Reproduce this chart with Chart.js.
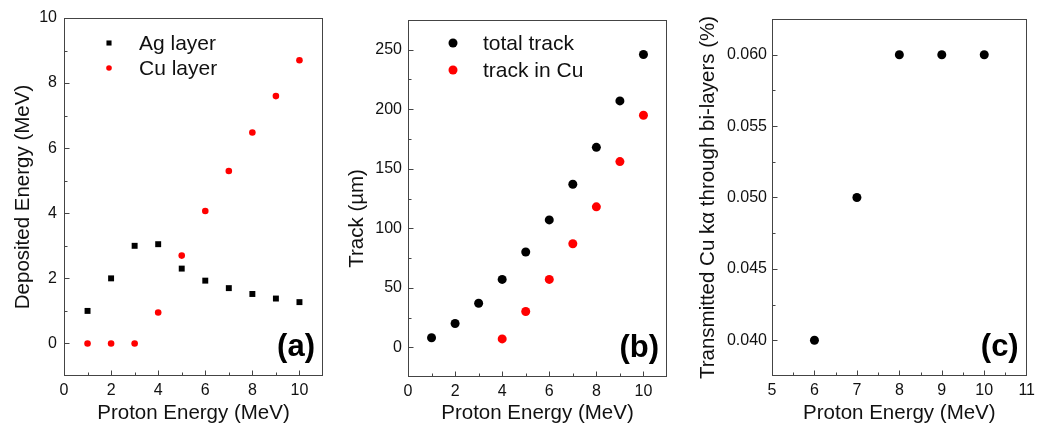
<!DOCTYPE html>
<html>
<head>
<meta charset="utf-8">
<script src="https://cdn.jsdelivr.net/npm/chart.js@4/dist/chart.umd.min.js"></script>
<style>
  html, body { margin: 0; padding: 0; background: #fff; }
  .panel { position: absolute; top: 0; height: 424px; }
  #pa { left: 0; width: 345px; }
  #pb { left: 345px; width: 345px; }
  #pc { left: 690px; width: 350px; }
</style>
</head>
<body>
<div class="panel" id="pa"><canvas id="chartA"></canvas></div>
<div class="panel" id="pb"><canvas id="chartB"></canvas></div>
<div class="panel" id="pc"><canvas id="chartC"></canvas></div>
<script>
// (a) deposited energy
const energyA = [1, 2, 3, 4, 5, 6, 7, 8, 9, 10];
const agLayer = [1.0, 2.0, 3.0, 3.05, 2.3, 1.93, 1.7, 1.52, 1.38, 1.27];
const cuLayer = [0, 0, 0, 0.95, 2.7, 4.07, 5.3, 6.48, 7.6, 8.7];
const xTicksA = [0, 2, 4, 6, 8, 10];
const yTicksA = [0, 2, 4, 6, 8, 10];

// (b) track
const energyB = [1, 2, 3, 4, 5, 6, 7, 8, 9, 10];
const totalTrack = [8, 20, 37, 57, 80, 107, 137, 168, 207, 246];
const energyBCu = [4, 5, 6, 7, 8, 9, 10];
const trackInCu = [7, 30, 57, 87, 118, 156, 195];
const xTicksB = [0, 2, 4, 6, 8, 10];
const yTicksB = [0, 50, 100, 150, 200, 250];

// (c) transmitted Cu k-alpha
const energyC = [6, 7, 8, 9, 10];
const transmitted = [0.040, 0.050, 0.060, 0.060, 0.060];
const xTicksC = [5, 6, 7, 8, 9, 10, 11];
const yTicksC = [0.040, 0.045, 0.050, 0.055, 0.060];

const FONT = "'Liberation Sans', Arial, sans-serif";
const AXIS = '#444';

Chart.defaults.font.family = FONT;
Chart.defaults.color = '#111';

const toPts = (xs, ys) => xs.map((x, i) => ({ x: x, y: ys[i] }));

// box frame, inward ticks, in-plot legend and panel letter
const framePlugin = {
  id: 'framePlugin',
  afterDraw(chart, args, opts) {
    const { ctx, chartArea: a, scales: { x, y } } = chart;
    ctx.save();
    ctx.strokeStyle = AXIS;
    ctx.lineWidth = 1;
    const L = Math.round(a.left) + 0.5, R = Math.round(a.right) - 0.5;
    const T = Math.round(a.top) + 0.5, B = Math.round(a.bottom) - 0.5;
    ctx.strokeRect(L, T, R - L, B - T);

    const near = (v, arr) => arr.some(t => Math.abs(t - v) < 1e-9);
    const drawTicks = (scale, majors, step, horiz) => {
      const start = Math.ceil((scale.min - 1e-9) / step) * step;
      ctx.beginPath();
      for (let v = start; v <= scale.max + 1e-9; v += step) {
        const p = Math.round(scale.getPixelForValue(v)) + 0.5;
        const len = near(v, majors) ? 5 : 3;
        if (horiz) {
          if (p <= L + 1 || p >= R - 1) continue;
          ctx.moveTo(p, B); ctx.lineTo(p, B - len);
        } else {
          if (p <= T + 1 || p >= B - 1) continue;
          ctx.moveTo(L, p); ctx.lineTo(L + len, p);
        }
      }
      ctx.stroke();
    };
    drawTicks(x, opts.xMajor, opts.xMinor, true);
    drawTicks(y, opts.yMajor, opts.yMinor, false);

    // legend inside plot
    (opts.legend || []).forEach((item, i) => {
      const ds = chart.data.datasets[item.index];
      const ly = opts.legendY[i];
      ctx.fillStyle = ds.backgroundColor;
      Chart.helpers.drawPoint(ctx, {
        pointStyle: ds.pointStyle, radius: item.radius, borderWidth: 0
      }, opts.legendX, ly);
      ctx.fillStyle = '#111';
      ctx.font = '21px ' + FONT;
      ctx.textBaseline = 'middle';
      ctx.textAlign = 'left';
      ctx.fillText(ds.label, opts.legendTextX, ly + 1);
    });

    ctx.font = 'bold 31px ' + FONT;
    ctx.fillStyle = '#000';
    ctx.textAlign = 'right';
    ctx.textBaseline = 'alphabetic';
    ctx.fillText(opts.letter, a.right - 8, a.bottom - 20);
    ctx.restore();
  }
};

function makeOptions(cfg) {
  return {
    responsive: true,
    maintainAspectRatio: false,
    animation: false,
    devicePixelRatio: 1,
    layout: { padding: { top: cfg.top, right: cfg.right, left: 0, bottom: 0 } },
    plugins: {
      legend: { display: false },
      tooltip: { enabled: false },
      framePlugin: cfg.frame
    },
    scales: {
      x: {
        type: 'linear',
        min: cfg.xMin, max: cfg.xMax,
        grid: { display: false, drawTicks: false },
        border: { display: false },
        afterBuildTicks: s => { s.ticks = cfg.xTicks.map(v => ({ value: v })); },
        afterFit: s => { s.height = cfg.xH; },
        ticks: { font: { size: 16 }, padding: 5, maxRotation: 0, color: '#111' },
        title: {
          display: true, text: 'Proton Energy (MeV)',
          font: { size: 20.5, lineHeight: 1 }, color: '#111',
          padding: { top: 0, bottom: 0 }
        }
      },
      y: {
        type: 'linear',
        min: cfg.yMin, max: cfg.yMax,
        grid: { display: false, drawTicks: false },
        border: { display: false },
        afterBuildTicks: s => { s.ticks = cfg.yTicks.map(v => ({ value: v })); },
        afterFit: s => { s.width = cfg.yW; },
        ticks: {
          font: { size: 16 }, padding: cfg.yPad, color: '#111',
          callback: cfg.yFmt || (v => String(v))
        },
        title: {
          display: true, text: cfg.yTitle,
          font: { size: 20.5, lineHeight: 1 }, color: '#111',
          padding: { top: cfg.yTitlePad, bottom: 0 }
        }
      }
    }
  };
}

new Chart(document.getElementById('chartA'), {
  type: 'scatter',
  data: {
    datasets: [
      { label: 'Ag layer', data: toPts(energyA, agLayer), pointStyle: 'rect',
        pointRadius: 4.2, pointBorderWidth: 0, backgroundColor: '#000', borderColor: '#000' },
      { label: 'Cu layer', data: toPts(energyA, cuLayer), pointStyle: 'circle',
        pointRadius: 3.3, pointBorderWidth: 0, backgroundColor: '#ff0000', borderColor: '#ff0000' }
    ]
  },
  options: makeOptions({
    top: 18, right: 22, xH: 48, yW: 64, yPad: 7, yTitlePad: 13,
    xMin: 0, xMax: 11, yMin: -1, yMax: 10, xTicks: xTicksA, yTicks: yTicksA,
    yTitle: 'Deposited Energy (MeV)',
    frame: {
      xMajor: xTicksA, xMinor: 1, yMajor: yTicksA, yMinor: 1, letter: '(a)',
      legend: [{ index: 0, radius: 3.6 }, { index: 1, radius: 2.8 }],
      legendX: 109, legendTextX: 139, legendY: [43, 68]
    }
  }),
  plugins: [framePlugin]
});

new Chart(document.getElementById('chartB'), {
  type: 'scatter',
  data: {
    datasets: [
      { label: 'total track', data: toPts(energyB, totalTrack), pointStyle: 'circle',
        pointRadius: 4.5, pointBorderWidth: 0, backgroundColor: '#000', borderColor: '#000' },
      { label: 'track in Cu', data: toPts(energyBCu, trackInCu), pointStyle: 'circle',
        pointRadius: 4.5, pointBorderWidth: 0, backgroundColor: '#ff0000', borderColor: '#ff0000' }
    ]
  },
  options: makeOptions({
    top: 20, right: 23, xH: 47, yW: 63, yPad: 6, yTitlePad: 2,
    xMin: 0, xMax: 11, yMin: -25, yMax: 275, xTicks: xTicksB, yTicks: yTicksB,
    // trailing spaces push the rotated title a bit lower, as in the original
    yTitle: 'Track (\u00b5m)       ',
    frame: {
      xMajor: xTicksB, xMinor: 1, yMajor: yTicksB, yMinor: 25, letter: '(b)',
      legend: [{ index: 0, radius: 4.5 }, { index: 1, radius: 4.5 }],
      legendX: 108, legendTextX: 138, legendY: [43, 70]
    }
  }),
  plugins: [framePlugin]
});

new Chart(document.getElementById('chartC'), {
  type: 'scatter',
  data: {
    datasets: [
      { label: 'Transmitted Cu k\u03b1', data: toPts(energyC, transmitted), pointStyle: 'circle',
        pointRadius: 4.5, pointBorderWidth: 0, backgroundColor: '#000', borderColor: '#000' }
    ]
  },
  options: makeOptions({
    top: 19, right: 10, xH: 48, yW: 82, yPad: 5, yTitlePad: 8,
    xMin: 5, xMax: 11, yMin: 0.0375, yMax: 0.0625, xTicks: xTicksC, yTicks: yTicksC,
    yTitle: 'Transmitted Cu k\u03b1 through bi-layers (%)',
    yFmt: v => v.toFixed(3),
    frame: {
      xMajor: xTicksC, xMinor: 0.5, yMajor: yTicksC, yMinor: 0.0025, letter: '(c)',
      legend: [], legendX: 0, legendTextX: 0, legendY: []
    }
  }),
  plugins: [framePlugin]
});
</script>
</body>
</html>
